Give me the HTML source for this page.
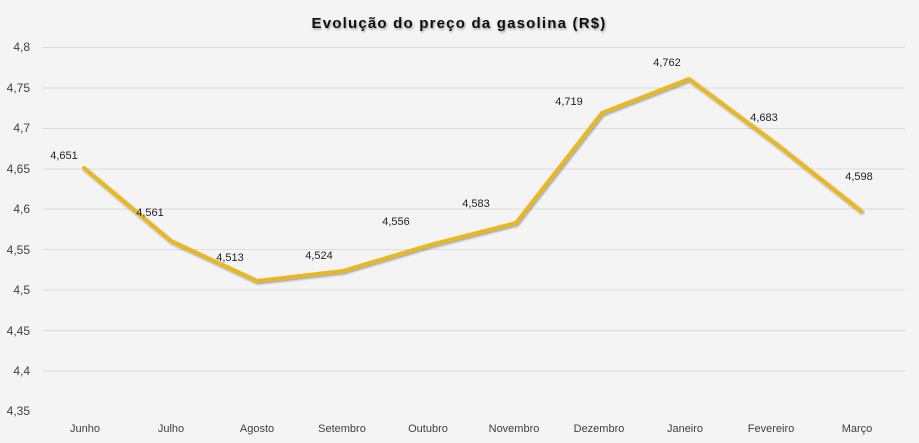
<!DOCTYPE html>
<html><head><meta charset="utf-8"><style>
html,body{margin:0;padding:0;background:#f4f4f4;}
svg{display:block;font-family:"Liberation Sans",sans-serif;}
</style></head><body>
<svg width="919" height="443" viewBox="0 0 919 443">
<defs><filter id="sh" x="-10%" y="-10%" width="120%" height="130%"><feDropShadow dx="1" dy="1.5" stdDeviation="1" flood-color="#000" flood-opacity="0.35"/></filter></defs>
<rect width="919" height="443" fill="#f4f4f4"/>
<text x="459" y="28" text-anchor="middle" font-size="15" font-weight="bold" letter-spacing="1.2" fill="#111" filter="url(#sh)">Evolução  do preço  da gasolina  (R$)</text>
<g stroke="#dcdcdc" stroke-width="1">
<line x1="42" x2="905" y1="47.5" y2="47.5"/><line x1="42" x2="905" y1="88" y2="88"/><line x1="42" x2="905" y1="128.5" y2="128.5"/><line x1="42" x2="905" y1="169" y2="169"/><line x1="42" x2="905" y1="209" y2="209"/><line x1="42" x2="905" y1="249.5" y2="249.5"/><line x1="42" x2="905" y1="290" y2="290"/><line x1="42" x2="905" y1="330.5" y2="330.5"/><line x1="42" x2="905" y1="371" y2="371"/>
</g>
<g font-size="12" fill="#404040" text-anchor="end">
<text x="30" y="51">4,8</text><text x="30" y="92">4,75</text><text x="30" y="132">4,7</text><text x="30" y="173">4,65</text><text x="30" y="213">4,6</text><text x="30" y="254">4,55</text><text x="30" y="294">4,5</text><text x="30" y="335">4,45</text><text x="30" y="375">4,4</text><text x="30" y="415">4,35</text>
</g>
<g font-size="11" fill="#404040" text-anchor="middle">
<text x="85" y="432">Junho</text><text x="171" y="432">Julho</text><text x="257" y="432">Agosto</text><text x="342" y="432">Setembro</text><text x="428" y="432">Outubro</text><text x="514" y="432">Novembro</text><text x="599" y="432">Dezembro</text><text x="685" y="432">Janeiro</text><text x="771" y="432">Fevereiro</text><text x="857" y="432">Março</text>
</g>
<polyline fill="none" stroke="#e8b820" stroke-width="4" stroke-linejoin="round" stroke-linecap="round" filter="url(#sh)"
points="84,168 171,241 257,281 343,271 430,245 516,223 602,113 689,79 775,143 861,211"/>
<g font-size="11" fill="#222" text-anchor="middle">
<text x="64" y="159">4,651</text><text x="150" y="216">4,561</text><text x="230" y="261">4,513</text><text x="319" y="259">4,524</text><text x="396" y="225">4,556</text><text x="476" y="207">4,583</text><text x="569" y="105">4,719</text><text x="667" y="66">4,762</text><text x="764" y="121">4,683</text><text x="859" y="180">4,598</text>
</g>
</svg>
</body></html>
